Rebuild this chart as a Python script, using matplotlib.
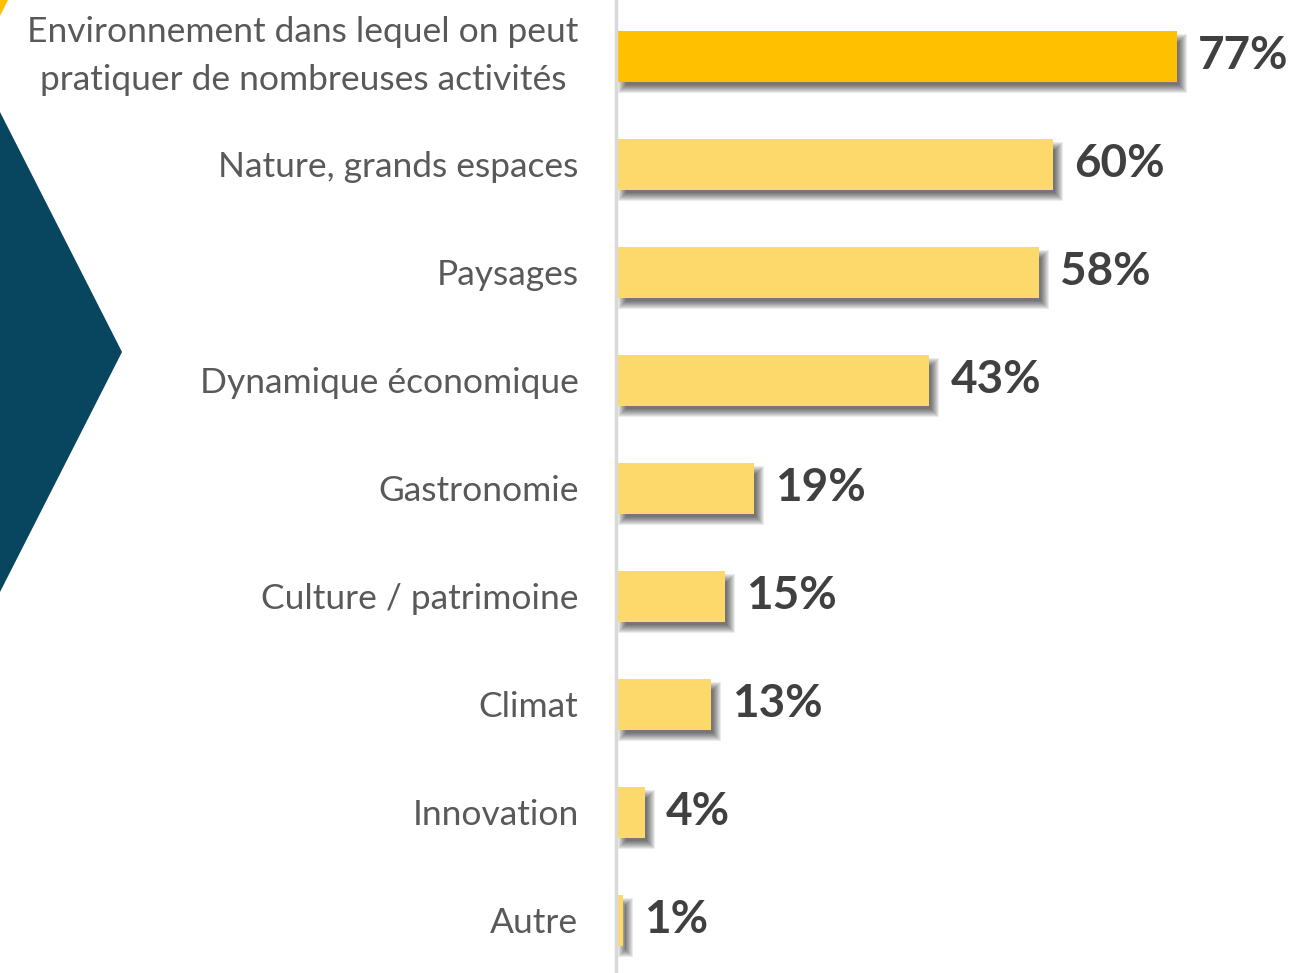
import matplotlib.pyplot as plt
from matplotlib.patches import Polygon

plt.rcParams['font.family'] = ['Lato', 'DejaVu Sans']

categories = ["Environnement dans lequel on peut\npratiquer de nombreuses activités",
              "Nature, grands espaces", "Paysages", "Dynamique économique",
              "Gastronomie", "Culture / patrimoine", "Climat", "Innovation", "Autre"]
values = [77, 60, 58, 43, 19, 15, 13, 4, 1]
colors = ['#FFC000'] + ['#FDD86A'] * 8

W, H = 1307, 973
fig = plt.figure(figsize=(W / 100, H / 100), dpi=100)

# decoration in pixel coords
bg = fig.add_axes([0, 0, 1, 1])
bg.set_xlim(0, W)
bg.set_ylim(H, 0)
bg.axis('off')
bg.add_patch(Polygon([(0, 112), (122, 352), (0, 592)], closed=True,
                     facecolor='#08455E', edgecolor='none'))
bg.add_patch(Polygon([(0, 0), (8, 0), (0, 16)], closed=True,
                     facecolor='#FFC000', edgecolor='none'))

x0 = 616
ax = fig.add_axes([x0 / W, 0, 1 - x0 / W, 1])
ax.set_xlim(0, (W - x0) / 7.286)
ax.set_ylim(8.49, -0.5185)
ax.patch.set_alpha(0)

px = 1 / 7.286
py = 1 / 108
y = list(range(len(values)))
h = 51 * py

# soft blurred shadow, offset right/down
for g in range(-8, 9, 2):
    ax.barh([i + 7 * py for i in y], [v + g * px for v in values],
            height=h + g * py, left=(6 - g / 2) * px,
            color='#000000', alpha=0.08, linewidth=0, zorder=1)
ax.barh(y, values, height=h, color=colors, linewidth=0, zorder=3)

for i, v in enumerate(values):
    ax.text(v + 21 * px, i, f"{v}%", va='center', ha='left', fontsize=33,
            fontweight='bold', color='#404040', zorder=4)

ax.set_yticks(y)
ax.set_yticklabels(categories, fontsize=25.5, color='#595959', linespacing=1.6)
lab0 = ax.get_yticklabels()[0]
lab0.set_va('center')
lab0.set_multialignment('center')
ax.tick_params(axis='y', length=0, pad=27)
ax.set_xticks([])
for s in ['top', 'right', 'bottom']:
    ax.spines[s].set_visible(False)
ax.spines['left'].set_color('#D9D9D9')
ax.spines['left'].set_linewidth(2.5)
ax.spines['left'].set_zorder(5)

fig.savefig('out.png', dpi=100)
